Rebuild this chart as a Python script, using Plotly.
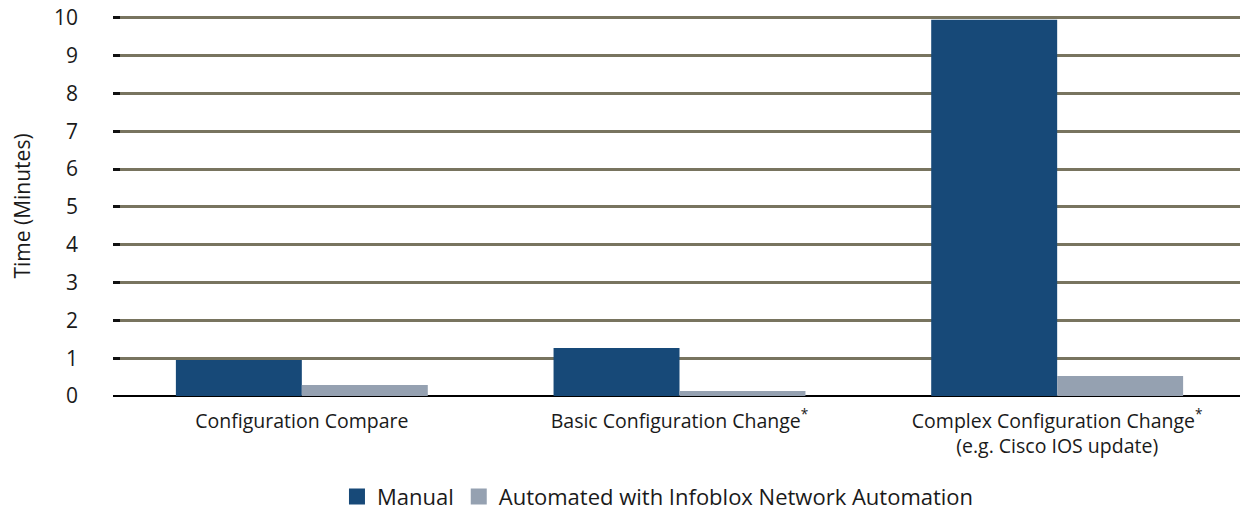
import plotly.graph_objects as go

categories = [
    "Configuration Compare",
    "Basic Configuration Change<sup>*</sup>",
    "Complex Configuration Change<sup>*</sup><br>(e.g. Cisco IOS update)",
]
series_names = ["Manual", "Automated with Infoblox Network Automation"]
manual = [0.95, 1.27, 9.95]
automated = [0.29, 0.13, 0.53]
y_ticks = list(range(0, 11))
colors = ["#174978", "#95a1b1"]

FONT = "Open Sans"

fig = go.Figure()
for name, vals, col in zip(series_names, [manual, automated], colors):
    fig.add_trace(go.Bar(name=name, x=categories, y=vals, showlegend=False,
                         marker=dict(color=col, line=dict(width=0))))
# legend entries with larger square swatches
for name, col in zip(series_names, colors):
    fig.add_trace(go.Scatter(name=name, x=[None], y=[None], mode="markers",
                             marker=dict(symbol="square", size=20, color=col),
                             showlegend=True))

fig.update_layout(
    width=1240, height=505,
    margin=dict(l=105, r=2, t=8, b=117, autoexpand=False),
    paper_bgcolor="white", plot_bgcolor="white",
    barmode="group", bargap=0.333, bargroupgap=0,
    font=dict(family=FONT, color="#1a1a1a"),
    showlegend=True,
    legend=dict(orientation="h", x=0.481, xanchor="center", y=-0.265, yanchor="middle",
                font=dict(size=22, family=FONT), traceorder="normal",
                itemwidth=30, tracegroupgap=0),
)
fig.update_xaxes(
    showgrid=False, showline=False, ticks="",
    tickfont=dict(size=19.5, family=FONT),
    ticklabelstandoff=11, automargin=False,
)
fig.update_yaxes(
    range=[0, 10.05], tickvals=y_ticks,
    showgrid=True, gridcolor="#78745f", gridwidth=3,
    zeroline=True, zerolinecolor="#000000", zerolinewidth=2,
    ticks="inside", ticklen=7, tickwidth=3, tickcolor="#111111",
    tickfont=dict(size=21, family=FONT),
    ticklabelstandoff=34, ticklabeloverflow="allow", automargin=False,
    title=dict(text="Time (Minutes)", font=dict(size=21, family=FONT), standoff=22),
)

fig.write_html("out.html")
